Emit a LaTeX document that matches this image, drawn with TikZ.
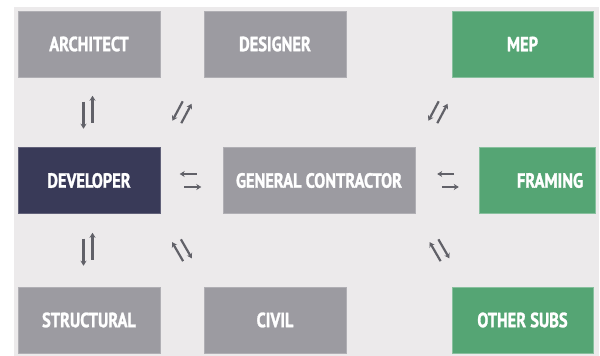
\documentclass[tikz,border=0pt]{standalone}
\usepackage{fontspec}
\newfontfamily\lbl{PT Sans}[FakeStretch=0.8, FakeBold=1.3]
\usetikzlibrary{arrows.meta,calc}
\definecolor{bgc}{HTML}{ECEAEB}
\definecolor{boxgray}{HTML}{9C9BA1}
\definecolor{boxgreen}{HTML}{55A574}
\definecolor{boxnavy}{HTML}{393A58}
\definecolor{arrc}{HTML}{616168}
\tikzset{
  x=1pt, y=1pt,
  box/.style={minimum width=142pt, minimum height=66pt, inner sep=0pt, text=white,
    font=\lbl\bfseries\fontsize{20.5}{24}\selectfont},
  graybox/.style={box, fill=boxgray, draw=boxgray!80!white, line width=0.6pt},
  greenbox/.style={box, fill=boxgreen, draw=boxgreen!70!white, line width=0.6pt},
  navybox/.style={box, fill=boxnavy, draw=boxnavy!80!white, line width=0.6pt},
  arr/.style={draw=arrc, line width=2.2pt, -{Stealth[length=5pt,width=6pt]}},
  pics/twoway/.style n args={3}{code={
    \draw[arr] ({-#1/2+#3}, {-#2/2}) -- ({#1/2+#3}, {-#2/2});
    \draw[arr] ({#1/2-#3}, {#2/2}) -- ({-#1/2-#3}, {#2/2});
  }}
}
\begin{document}
\begin{tikzpicture}
\useasboundingbox (0,0) rectangle (600,356);
\fill[white] (0,0) rectangle (600,356);
\fill[bgc] (14,0) rectangle (599,349);
% top row
\node[graybox] (arch) at (89,312) {ARCHITECT};
\node[graybox] (des) at (275,312) {DESIGNER};
\node[greenbox, minimum width=141pt] (mep) at (522.5,312) {MEP};
% middle row
\node[navybox] (dev) at (89,175.5) {DEVELOPER};
\node[graybox, minimum width=192pt] (gc) at (319,175.5) {GENERAL CONTRACTOR};
\node[greenbox, minimum width=116pt] (fr) at (537,175.5) {\hspace*{26pt}FRAMING};
% bottom row
\node[graybox] (str) at (89,36) {STRUCTURAL};
\node[graybox] (civ) at (275,36) {CIVIL};
\node[greenbox, minimum width=141pt] (oth) at (522.5,36) {OTHER SUBS};
% two-way arrow pairs
\coordinate (p1) at ($(arch.south)!0.5!(dev.north)+(-1,0)$);
\coordinate (p2) at ($(dev.north east)!0.5!(des.south west)$);
\coordinate (p3) at ($(dev.east)!0.5!(gc.west)+(-1,0)$);
\coordinate (p4) at ($(dev.south)!0.5!(str.north)+(-1,1)$);
\coordinate (p5) at ($(dev.south east)!0.5!(civ.north west)$);
\coordinate (p6) at ($(gc.north east)!0.5!(mep.south west)+(4.5,0)$);
\coordinate (p7) at ($(gc.east)!0.5!(fr.west)+(1,0)$);
\coordinate (p8) at ($(gc.south east)!0.5!(oth.north west)+(6,0)$);
\pic[rotate=90] at (p1) {twoway={27}{9}{3}};
\pic[rotate=62] at (p2) {twoway={22}{9}{1}};
\pic at (p3) {twoway={17}{13}{2.3}};
\pic[rotate=90] at (p4) {twoway={27}{9}{3}};
\pic[rotate=-60, yscale=-1] at (p5) {twoway={22}{9}{1}};
\pic[rotate=62] at (p6) {twoway={22}{9}{1}};
\pic at (p7) {twoway={17}{13}{2.3}};
\pic[rotate=-60, yscale=-1] at (p8) {twoway={22}{9}{1}};
\end{tikzpicture}
\end{document}
